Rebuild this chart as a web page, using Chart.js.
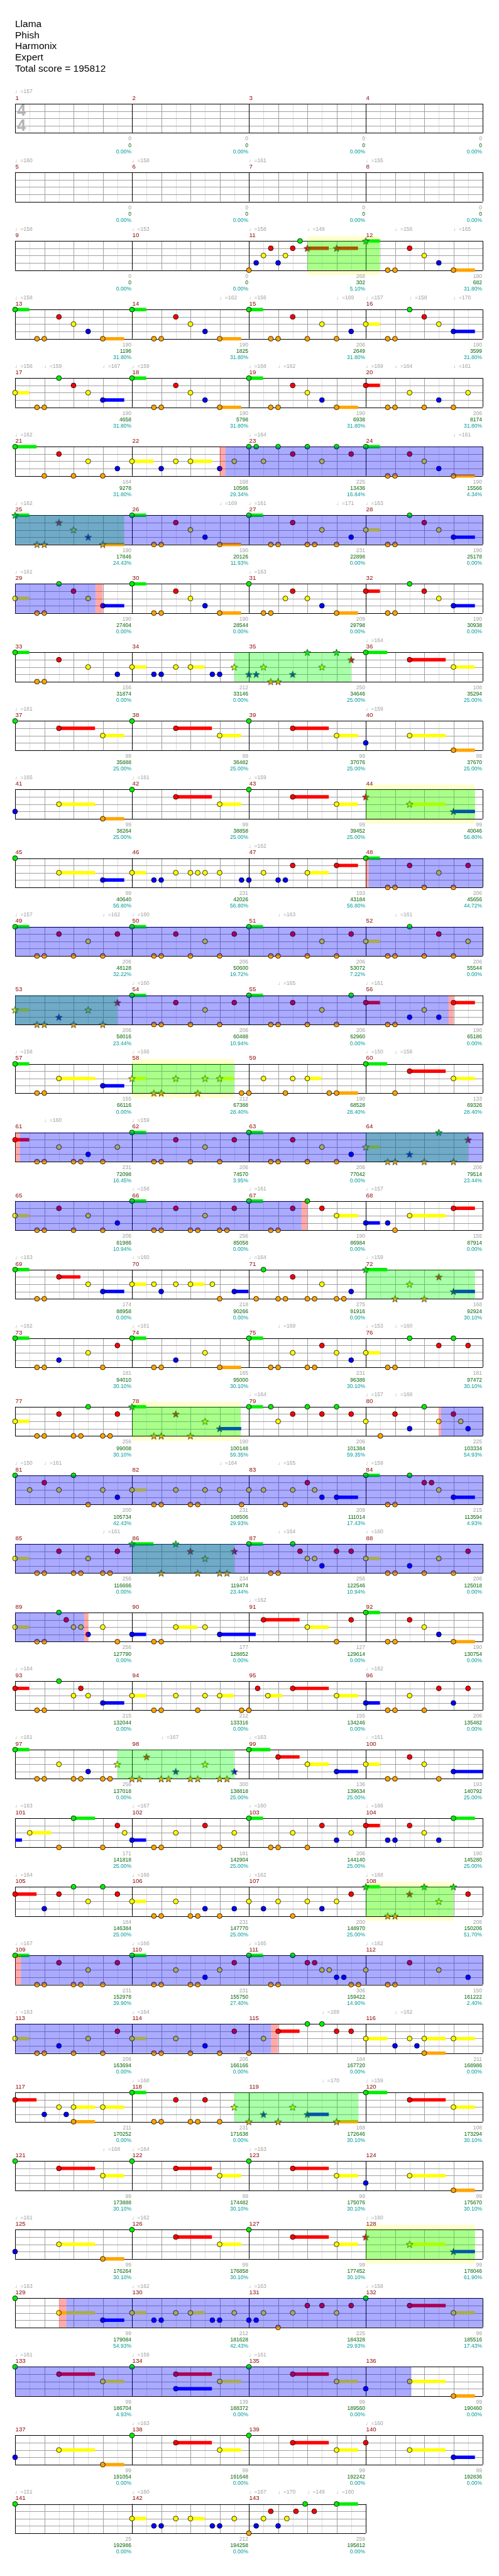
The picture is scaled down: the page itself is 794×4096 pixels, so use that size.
<!DOCTYPE html>
<html>
<head>
<meta charset="utf-8">
<script src="https://cdn.jsdelivr.net/npm/chart.js@4.4.0/dist/chart.umd.min.js"></script>
<style>
  html, body { margin: 0; padding: 0; background: #fff; }
  #wrap { width: 794px; height: 4096px; }
</style>
</head>
<body>
<div id="wrap"><canvas id="chart" width="794" height="4096"></canvas></div>
<script>
const titleLines = ['Llama', 'Phish', 'Harmonix', 'Expert', 'Total score = 195812'];
const lastMeasure = 143;

// notes: [measure, sixteenth inside measure, sustain length in sixteenths]
const greenNotes = [
  [11,7],[12,0,2],
  [13,0,2],[14,0,2],[15,0,2],[16,6],
  [17,6],[18,0,2],[19,0,2],
  [21,0,3],[23,0],[23,1],[23,4],[23,8],[23,12],[24,0,2],
  [25,0,2],[26,0,2],[27,0,2],[28,6],
  [29,6],[30,0,2],[31,0],[32,6],
  [33,0,2],[35,8],[35,12],[36,0,3],
  [37,0],[38,0],[39,0],
  [42,0],[43,0],
  [45,0],[48,0,2],
  [49,0,2],[50,0,2],[51,0,2],[52,6],
  [54,0,2],[55,0,2],[55,14],
  [57,0,2],[60,0,3],
  [62,0,2],[63,0,2],[64,10],
  [66,0,2],[67,0,2],[67,8],
  [69,0,2],[71,2],[72,0,3],
  [73,0,2],[74,0,2],[75,0,2],[76,6],[76,12],
  [77,10],[78,0,2],[79,0,2],[79,3],[79,8],[79,12],[80,8],
  [81,0],[81,8],[84,0,2],[84,6],
  [86,0,3],[86,6],[87,0,2],[87,6],
  [89,6],[92,0,2],
  [93,6],
  [97,0,2],[99,0,3],
  [101,8,3],[103,0,2],[104,12,3],
  [105,8],[105,12],[108,0,2],[108,8],[108,12],
  [109,0,2],[110,0,2],[111,0,2],[111,6],
  [115,8],[115,10],
  [118,0,2],[120,0,3],
  [121,0],[122,0],[123,0],
  [126,0],[127,0],
  [129,0],[132,0],
  [133,0],[134,0],[135,0],
  [138,0],[139,0],
  [141,0],[143,7.7],[143,12,3]
];
const redNotes = [
  [11,3],[11,6],[11,8,3],[11,12,3],[12,6],
  [13,6],[14,6],[15,6],[16,8],
  [17,8],[18,6],[19,6],[20,0,2],
  [21,6],[23,6],[23,14],[24,6],
  [25,6],[26,6],[27,6],[28,8],
  [29,8],[30,6],[31,6],[32,0,2],[32,8],
  [33,6],[35,14],[36,6,5],
  [37,6,5],[38,6,5],[39,6,5],
  [42,6,5],[43,6,5],[44,0],
  [47,6],[47,12,3],[48,6],[48,14],
  [49,6],[49,14],[50,6],[50,14],[51,6],[51,14],[52,10],
  [53,14],[54,6],[54,14],[55,6],[56,0,2],[56,12,3],
  [60,6,5],
  [61,0,2],[62,6],[62,14],[63,6],[64,14],
  [65,6],[66,6],[66,14],[67,6],[67,10],[68,12,3],
  [69,6,3],[71,6],[72,10],
  [73,14],[75,10],[76,10],[76,14],
  [77,6],[77,14],[78,6],[79,6],[79,10],[79,14],[80,4],[80,12],
  [81,4],[83,8],[84,8],[84,9],
  [85,6],[85,14],[86,8],[86,14],[87,7],[87,12],[87,14],[88,14],
  [89,7],[91,2,5],[91,14],[92,6],
  [93,0,2],[93,9],[95,1.2],[95,6,5],[96,10],[96,14],
  [98,2],[99,4,3],[100,6],
  [101,14],[102,10],[103,10],[104,0,2],[104,6],
  [105,0,3],[105,6],[105,14],[107,14],[108,6],[108,14],
  [109,6],[109,14],[110,14],[111,8],[111,9],[112,6],
  [113,14],[114,14],[115,4,3],[115,12],[115,14],
  [117,0,3],[118,6],[118,10],[120,6,5],
  [121,6,5],[122,6,5],[123,6,5],
  [126,6,5],[127,6,5],[128,0],
  [131,8],[131,10],[131,14],[132,6,5],
  [133,6,5],[134,6,5],[135,6,5],
  [138,6,5],[139,6,5],[140,0],
  [143,3],[143,6.45],[143,8.95]
];
const yellowNotes = [
  [11,2],[11,5],[12,8],
  [13,8],[14,8],[15,10],[16,0,2],[16,10],
  [17,0,2],[17,10],[18,8],[19,8],[20,6],[20,14],
  [21,10],[22,0,3],[22,6],[22,8,3],[22,14],[23,2],[23,10],[24,8],
  [25,8],[26,8],[27,10],[28,0,2],[28,10],
  [29,0,2],[29,10],[30,8],[31,5],[31,8],[32,10],
  [33,10],[34,0,2],[34,6],[34,8,2],[34,14],[35,2],[35,10],[36,12,3],
  [37,12,3],[38,12,3],[39,12,3],[40,6,5],
  [41,6,5],[42,12,3],[43,12,3],[44,6,5],
  [45,6,5],[46,0,2],[46,6],[46,8],[46,9],[46,10],[46,12],[47,2],[47,8,3],[48,10],
  [49,10],[50,10],[51,10],[52,0,2],[52,14],
  [53,0,2],[53,10],[54,10],[55,10],[56,8],
  [57,6,5],[58,0,2],[58,6],[58,10],[58,12,2],[59,2],[59,6],[59,8,2],[60,12,3],
  [61,6],[61,14],[62,10],[63,10],[64,0,2],
  [65,0,2],[65,10],[66,10],[67,12,3],[68,6,5],
  [69,10],[70,0,2],[70,3],[70,6],[70,8,2],[70,11],[71,10],[72,6],
  [73,10],[74,10],[75,6],[75,12],[76,0,2],
  [77,0,2],[78,10],[79,4],[80,0],[80,10],[80,13],
  [81,2],[81,6],[81,12],[82,0,2],[82,6],[82,10],[82,12],[83,0],[83,2],[83,6],[83,9],[84,10],
  [85,0,2],[85,10],[86,10],[87,8],[87,9],[88,0,2],[88,10],
  [89,0,2],[89,8],[89,9],[89,12],[90,6,3],[90,10],[91,8,3],[92,8],
  [93,8],[93,10],[94,0,2],[94,6],[94,10],[94,12,2],[95,2.6,2],[95,12,3],[96,6],
  [97,6],[97,14],[98,10],[99,8,3],[100,0,2],[100,8],
  [101,2,3],[101,15],[102,6],[102,14],[103,6],[103,14],[104,8],
  [105,10],[106,0,2],[106,6],[107,0],[107,4],[107,8],[107,12],[108,10],
  [109,10],[110,6],[110,12],[111,10],[111,11],[112,0],[112,10],
  [113,0,2],[113,10],[114,0,2],[114,6],[115,2],[116,0,3],[116,6],[116,8,3],[116,12,3],
  [117,6],[117,8,3],[117,12,3],[118,14],[119,6],[120,12,3],
  [121,12,3],[122,12,3],[123,12,3],[124,6,5],
  [125,6,5],[126,12,3],[127,12,3],[128,6,5],
  [129,6,5],[130,0,2],[130,6],[130,8,2],[130,14],[131,2],[131,6],[131,12],[132,12,3],
  [133,12,3],[134,12,3],[135,12,3],[136,6,5],
  [137,6,5],[138,12,3],[139,12,3],[140,6,5],
  [142,0,2],[142,6],[142,8,2],[142,14],[143,2],[143,5.2]
];
const blueNotes = [
  [11,1],[11,4],[12,10],
  [13,10],[14,10],[15,14],[16,12,3],
  [17,12,3],[18,10],[19,10],[20,10],
  [21,14],[22,4],[22,12],[24,10],
  [25,10],[26,10],[27,14],[28,12,3],
  [29,12,3],[30,10],[31,10],[32,12,3],
  [33,14],[34,3],[34,4],[34,11],[34,12],[35,0],[35,1],[35,6],
  [40,0],
  [41,0],[44,12,3],
  [45,12,3],[46,3],[46,4],[46,15],[47,0],[47,4],[47,5],
  [53,6],[56,6],[56,10],
  [57,12,3],
  [61,10],[63,14],[64,6],
  [65,14],[68,0,2],[68,3],
  [69,12,3],[70,4],[70,14,2],[71,14],[72,12,3],
  [73,6],[74,6],[75,14],
  [78,12,3],[80,6],[80,14],
  [81,14],[83,10],[83,12,3],[84,12,3],
  [87,10],[88,6],
  [89,10],[90,0,2],[90,12,5],[92,10],
  [93,12,3],[96,0,2],[96,12],
  [97,10],[98,6],[98,14],[99,12,3],[100,12,5],
  [102,0,2],[103,12],[104,3],[104,4],[104,10],
  [105,4],[106,10],[106,14],[107,2],[107,10],
  [110,10],[111,12],[111,13],[112,14],
  [113,6],[114,10],[116,4],[116,7],
  [117,4],[117,7],[119,2],[119,8,3],
  [124,0],
  [125,0],[128,12,3],
  [129,12,3],[130,3],[130,4],[130,11],[130,12],[131,0],[131,1],
  [134,6,5],[136,0],
  [137,0],[140,12,3],
  [142,3],[142,4],[142,11],[142,12],[143,1],[143,4]
];
const orangeNotes = [
  [11,0],[12,3],[12,4],[12,12,3],
  [13,3],[13,4],[13,12,3],[14,3],[14,4],[14,12,3],[15,3],[15,4],[15,8],[15,12],[16,3],[16,4],
  [17,3],[17,4],[18,3],[18,4],[18,12,3],[19,3],[19,4],[19,12,3],[20,3],[20,4],[20,8],[20,12],
  [21,4],[21,8],[21,12],[24,3],[24,4],[24,12,3],
  [25,3],[25,4],[25,12,3],[26,3],[26,4],[26,12,3],[27,3],[27,4],[27,8],[27,9],[27,12],[28,3],[28,4],
  [29,3],[29,4],[30,3],[30,4],[30,12,3],[31,2],[31,3],[31,12,3],[32,3],[32,4],
  [33,3],[33,4],[35,3],[35,4],
  [40,12,3],
  [41,12,3],
  [48,3],[48,4],[48,8],[48,12],
  [49,3],[49,4],[49,8],[49,12],[50,3],[50,4],[50,8],[50,12],[51,3],[51,4],[51,8],[51,12],[52,3],[52,4],[52,8],[52,12],
  [53,3],[53,4],[53,8],[53,12],[54,3],[54,4],[54,8],[54,12],[55,3],[55,4],[55,8],[55,12],[56,3],[56,4],
  [57,3],[57,4],[58,3],[58,4],[58,9],[58,15],[59,0],[59,5],[59,11],[59,12,3],[60,4],
  [61,3],[61,4],[61,8],[61,9],[61,12],[62,3],[62,4],[62,8],[62,12],[63,3],[63,4],[63,8],[63,12],[64,3],[64,4],[64,8],[64,12],
  [65,3],[65,4],[65,8],[65,12],[66,3],[66,4],[66,8],[66,9],[66,12],[66,13],[67,3],[67,4],[68,4],
  [69,3],[69,4],[70,12],[71,1],[71,4],[71,5],[71,8],[71,9],[71,12],[71,13],[72,4],[72,8],
  [73,3],[73,4],[73,12],[74,3],[74,4],[74,12,3],[75,3],[75,4],[75,8],[75,9],[76,3],[76,4],
  [77,3],[77,4],[77,8],[77,9],[77,12],[77,13],[78,3],[78,4],[78,8],[80,2],
  [81,10],[82,3],[82,4],[82,8],[82,9],[82,15],[83,5],[84,3],[84,4],
  [85,3],[85,4],[85,8],[85,9],[85,12],[85,13],[86,4],[86,9],[86,12],[86,13],[87,3],[87,4],[88,3],[88,4],[88,8],[88,12],
  [89,3],[89,4],[89,14],[90,3],[90,4],[91,12],[92,3],[92,4],[92,12,3],
  [93,3],[93,4],[94,3],[94,4],[94,9],[94,15],[95,0],[96,3],[96,4],[96,8],
  [97,3],[97,4],[97,8],[97,9],[97,12],[97,13],[98,0],[98,1],[98,4],[98,5],[98,8],[98,9],[98,12],[98,13],[100,3],[100,4],[100,10],
  [101,6],[101,12],[102,3],[102,4],[102,12],[103,3],[103,4],[103,8],
  [106,3],[106,4],[106,8],[106,9],[106,12],[107,6],[108,3],[108,4],
  [109,3],[109,4],[109,8],[109,9],[109,12],[110,3],[110,4],[110,8],[110,9],[111,3],[111,4],[111,14],[111,15],[112,3],[112,4],
  [113,3],[113,4],[113,8],[113,12],[114,3],[114,4],[114,8],[114,12],[115,0],[116,8,3],
  [117,8,3],[118,3],[118,4],[118,8],[118,9],[118,12],[119,0],[119,4],[119,12,3],
  [124,12,3],
  [125,12,3],
  [131,4],
  [136,12,3],
  [137,12,3],
  [143,0]
];

// sections: [startMeasure, startSixteenth, endMeasure, endSixteenth]
const spPhrases = [
  [11,8,12,1.94],[25,0,25,14.93],[34,14,35,14],[44,0,44,14.95],[53,0,53,14],
  [58,0,58,14],[64,0,64,14],[72,0,72,14.95],[78,0,78,14.9],[86,0,86,14],
  [97,14,98,14],[108,0,108,12],[118,14,119,15],[128,0,128,14.95]
];
const yellowBoxes = [
  [11,8,12,1.94],[44,0,44,14.95],[58,0,58,14],[78,0,78,14.9],[108,0,108,12],[128,0,128,14.95]
];
const activations = [
  [22,12.78,29,11],[48,0.4,56,11.34],[61,0.65,67,7.2],[80,10.3,89,9.45],[109,0.8,115,3.05],[129,7,136,6.24]
];
const squeezes = [
  [22,12,22,12.78],[29,11,29,12],[48,0,48,0.4],[56,11.34,56,12],[61,0,61,0.65],[67,7.2,67,8],
  [80,10,80,10.3],[89,9.45,89,10],[109,0,109,0.8],[115,3.05,115,4],[129,6,129,7]
];

// tempo marks: [measure, sixteenth, bpm]
const tempos = [
  [1,0,157],[5,0,160],[6,0,158],[7,0,161],[8,0,155],
  [9,0,158],[10,0,153],[11,0,158],[11,8,149],[12,4,156],[12,12,165],
  [13,0,158],[14,12,162],[15,0,156],[15,12,169],[16,0,157],[16,6,158],[16,12,170],
  [17,0,156],[17,4,159],[17,12,167],[18,0,159],[19,0,168],[19,4,162],[20,0,169],[20,4,164],[20,12,161],
  [21,0,162],[23,0,164],[24,12,161],
  [25,0,162],[26,12,169],[27,0,161],[27,12,171],[28,0,163],
  [29,0,161],[31,0,163],
  [36,0,164],
  [37,0,161],[40,0,159],
  [41,0,165],[42,0,161],[43,0,159],
  [47,0,162],
  [49,0,157],[49,12,162],[50,0,160],[51,4,163],[52,4,161],
  [54,0,160],[55,4,165],[56,0,161],
  [57,0,158],[58,0,166],[60,0,150],[60,4,156],
  [61,4,160],[62,0,159],
  [66,0,158],[67,0,161],[68,0,157],
  [69,0,163],[70,0,160],[71,0,164],[72,0,159],
  [73,0,162],[74,0,161],[75,4,169],[76,0,153],[76,4,160],
  [79,0,164],[80,0,157],[80,4,168],
  [81,0,150],[81,4,161],[82,12,164],[83,4,165],[84,0,159],
  [85,12,161],[87,4,164],[88,0,160],
  [91,0,162],
  [93,0,164],[96,0,162],
  [97,0,161],[98,4,167],[99,0,163],[100,0,161],
  [101,0,163],[102,0,167],[103,0,160],[104,0,166],
  [105,0,164],[106,0,166],[107,0,162],[108,0,168],
  [109,0,167],[110,0,166],[111,0,165],[112,0,162],
  [113,0,163],[114,0,164],[115,10,169],[116,4,162],
  [118,0,168],[119,10,170],[120,0,159],
  [121,12,168],[122,0,164],[123,0,163],
  [125,0,161],[126,0,162],[128,0,160],
  [129,0,163],[130,0,162],[131,0,163],[132,0,158],
  [133,0,161],[134,0,159],[135,0,161],
  [138,0,163],[140,0,160],
  [141,0,151],[142,0,160],[143,0,167],[143,4,170],[143,8,149],[143,12,160]
];

// per measure, 1..143
const baseScores = [0,0,0,0, 0,0,0,0, 0,0,268,190, 190,190,206,190, 190,190,190,206, 184,168,225,190,
  190,190,231,190, 190,190,209,190, 156,212,250,108, 99,99,99,99, 99,99,99,99, 99,231,193,206,
  206,206,206,206, 206,206,206,190, 155,212,190,133, 231,206,206,206, 206,256,190,155, 174,218,275,168,
  181,165,231,181, 256,190,206,225, 200,231,209,215, 256,234,256,206, 256,177,127,190, 215,212,155,206,
  256,300,136,193, 171,181,206,190, 184,231,200,206, 231,231,306,150, 206,206,184,211, 211,231,168,108,
  99,99,99,99, 99,99,99,99, 99,212,225,99, 99,139,99,99, 99,99,99,99, 25,212,259];
const totalScores = [0,0,0,0, 0,0,0,0, 0,0,302,682, 1196,1825,2649,3599, 4658,5798,6938,8174,
  9278,10586,13436,15566, 17846,20126,22898,25178, 27404,28544,29798,30938, 31874,33146,34646,35294,
  35888,36482,37076,37670, 38264,38858,39452,40046, 40640,42026,43184,45656, 48128,50600,53072,55544,
  58016,60488,62960,65186, 66116,67388,68528,69326, 72098,74570,77042,79514, 81986,85058,86984,87914,
  88958,90266,91916,92924, 94010,95000,96386,97472, 99008,100148,101384,103334, 105734,108506,111014,113594,
  116666,119474,122546,125018, 127790,128852,129614,130754, 132044,133316,134246,135482,
  137018,138818,139634,140792, 141818,142904,144140,145280, 146384,147770,148970,150206,
  152978,155750,159422,161222, 163694,166166,167720,168986, 170252,171638,172646,173294,
  173888,174482,175076,175670, 176264,176858,177452,178046, 179084,181628,184328,185516,
  186704,188372,189560,190460, 191054,191648,192242,192836, 192986,194258,195812];
const percents = [0,0,0,0, 0,0,0,0, 0,0,5.10,31.80, 31.80,31.80,31.80,31.80, 31.80,31.80,31.80,31.80,
  31.80,29.34,16.84,4.34, 24.43,11.93,0,0, 0,0,0,0, 0,0,25,25, 25,25,25,25, 25,25,25,56.80,
  56.80,56.80,56.80,44.72, 32.22,19.72,7.22,0, 23.44,10.94,0,0, 0,28.40,28.40,28.40, 16.45,3.95,0,23.44,
  10.94,0,0,0, 0,0,0,30.10, 30.10,30.10,30.10,30.10, 30.10,59.35,59.35,54.93, 42.43,29.93,17.43,4.93,
  0,23.44,10.94,0, 0,0,0,0, 0,0,0,0, 0,25,25,25, 25,25,25,25, 25,25,25,51.70, 39.90,27.40,14.90,2.40,
  0,0,0,0, 0,0,30.10,30.10, 30.10,30.10,30.10,30.10, 30.10,30.10,30.10,61.90, 54.93,42.43,29.93,17.43,
  4.93,0,0,0, 0,0,0,0, 0,0,0];

const laneNotes = [greenNotes, redNotes, yellowNotes, blueNotes, orangeNotes];
const laneColors = ['#00ee00', '#ff0000', '#ffff00', '#0000ff', '#ffa500'];

// layout, in reference pixels (y scale runs 0..5281)
const K = 794 / 1024;
const ROW_TOP = 205.7, ROW_STEP = 141, LANE_GAP = 15;
const rowCount = Math.ceil(lastMeasure / 4);

function abs16(m, s) { return (m - 1) * 16 + s; }
function rowTop(r) { return ROW_TOP + r * ROW_STEP; }
function laneY(r, lane) { return rowTop(r) + lane * LANE_GAP; }
function splitRows(a, e, cb) {
  while (a < e - 1e-6) {
    const r = Math.floor(a / 64 + 1e-9);
    const end = Math.min(e, (r + 1) * 64);
    cb(r, a - r * 64, end - r * 64);
    a = end;
  }
}
function isStar(a) {
  return spPhrases.some(p => a >= abs16(p[0], p[1]) - 0.05 && a <= abs16(p[2], p[3]) + 0.05);
}
function fnt(ref, bold) {
  return (bold ? 'bold ' : '') + (ref * K).toFixed(2) + 'px "Liberation Sans", "DejaVu Sans", sans-serif';
}

function makeStar(fill) {
  const size = 13;
  const c = document.createElement('canvas');
  c.width = size; c.height = size;
  const g = c.getContext('2d');
  g.beginPath();
  for (let i = 0; i < 10; i++) {
    const rad = i % 2 ? 2.3 : 5.8;
    const ang = -Math.PI / 2 + i * Math.PI / 5;
    g.lineTo(size / 2 + rad * Math.cos(ang), size / 2 + 0.5 + rad * Math.sin(ang));
  }
  g.closePath();
  g.fillStyle = fill;
  g.fill();
  g.strokeStyle = '#1b2b1b';
  g.lineWidth = 0.8;
  g.stroke();
  return c;
}

const datasets = [];
laneNotes.forEach((notes, lane) => {
  const circles = [], stars = [], holds = [];
  notes.forEach(n => {
    const a = abs16(n[0], n[1]);
    const r = Math.floor(a / 64);
    const pt = { x: a - r * 64, y: laneY(r, lane) };
    (isStar(a) ? stars : circles).push(pt);
    if (n[2]) {
      splitRows(a, a + n[2] - 0.06, (row, x0, x1) => {
        holds.push({ x: x0, y: laneY(row, lane) }, { x: x1, y: laneY(row, lane) }, { x: x1, y: null });
      });
    }
  });
  datasets.push({
    type: 'scatter', data: circles, order: 0, clip: false,
    pointStyle: 'circle', pointRadius: 3.9, pointBackgroundColor: laneColors[lane],
    pointBorderColor: '#000', pointBorderWidth: 0.8
  });
  datasets.push({
    type: 'scatter', data: stars, order: 0, clip: false,
    pointStyle: makeStar(laneColors[lane]), pointRadius: 5
  });
  datasets.push({
    type: 'line', data: holds, order: 1, clip: false,
    borderColor: laneColors[lane], borderWidth: 7 * K, borderCapStyle: 'butt',
    pointRadius: 0, pointHitRadius: 0, spanGaps: false, tension: 0
  });
});

function fillSections(ctx, X, Y, list, color, above, below) {
  ctx.fillStyle = color;
  list.forEach(sec => {
    splitRows(abs16(sec[0], sec[1]), abs16(sec[2], sec[3]), (r, x0, x1) => {
      const t = Y(rowTop(r) - above), b = Y(rowTop(r) + 60 + below);
      ctx.fillRect(X(x0), t, X(x1) - X(x0), b - t);
    });
  });
}

const staffPlugin = {
  id: 'staff',
  beforeDraw(chart) {
    const ctx = chart.ctx;
    ctx.save();
    ctx.fillStyle = '#fff';
    ctx.fillRect(0, 0, chart.width, chart.height);
    ctx.restore();
  },
  beforeDatasetsDraw(chart) {
    const ctx = chart.ctx, xs = chart.scales.x, ys = chart.scales.y;
    const X = v => xs.getPixelForValue(v), Y = v => ys.getPixelForValue(v);
    ctx.save();
    fillSections(ctx, X, Y, yellowBoxes, '#ffffcc', 10, 10);
    ctx.lineWidth = 1;
    for (let r = 0; r < rowCount; r++) {
      const nm = Math.min(4, lastMeasure - r * 4);
      const top = Y(rowTop(r)), bot = Y(rowTop(r) + 60);
      const vline = (s, col) => {
        const x = Math.round(X(s)) + 0.5;
        ctx.strokeStyle = col;
        ctx.beginPath(); ctx.moveTo(x, top); ctx.lineTo(x, bot); ctx.stroke();
      };
      const hline = (off, col) => {
        const y = Math.round(Y(rowTop(r) + off)) + 0.5;
        ctx.strokeStyle = col;
        ctx.beginPath(); ctx.moveTo(X(0), y); ctx.lineTo(X(nm * 16), y); ctx.stroke();
      };
      for (let s = 2; s < nm * 16; s += 4) vline(s, '#dedede');
      for (let s = 4; s < nm * 16; s += 4) if (s % 16) vline(s, '#a0a0a0');
      [15, 30, 45].forEach(o => hline(o, '#a0a0a0'));
      for (let s = 0; s <= nm * 16; s += 16) vline(s, '#000');
      hline(0, '#000');
      hline(60, '#000');
    }
    // time signature
    ctx.fillStyle = '#b4b4b4';
    ctx.font = fnt(33, true);
    ctx.textAlign = 'left';
    ctx.textBaseline = 'middle';
    ctx.fillText('4', X(0) + 4 * K, Y(rowTop(0) + 16));
    ctx.fillText('4', X(0) + 4 * K, Y(rowTop(0) + 46));
    ctx.restore();
  },
  afterDatasetsDraw(chart) {
    const ctx = chart.ctx, xs = chart.scales.x, ys = chart.scales.y;
    const X = v => xs.getPixelForValue(v), Y = v => ys.getPixelForValue(v);
    ctx.save();
    fillSections(ctx, X, Y, spPhrases, 'rgba(0,255,0,0.333)', 0, 0);
    fillSections(ctx, X, Y, activations, 'rgba(0,0,255,0.333)', 0, 0);
    fillSections(ctx, X, Y, squeezes, 'rgba(255,0,0,0.333)', 0, 0);

    ctx.textBaseline = 'middle';
    // title block
    ctx.fillStyle = '#000';
    ctx.font = fnt(20);
    ctx.textAlign = 'left';
    titleLines.forEach((t, i) => ctx.fillText(t, X(0), Y(42 + i * 23)));

    // tempo marks
    ctx.fillStyle = '#a0a0a0';
    ctx.font = fnt(11);
    tempos.forEach(t => {
      const a = abs16(t[0], t[1]);
      const r = Math.floor(a / 64);
      ctx.fillText('\u2669=' + t[2], X(a - r * 64), Y(rowTop(r) - 24.5));
    });

    for (let m = 1; m <= lastMeasure; m++) {
      const r = Math.floor((m - 1) / 4), col = (m - 1) % 4, t = rowTop(r);
      ctx.textAlign = 'left';
      ctx.fillStyle = '#8b0000';
      ctx.font = fnt(12.5);
      ctx.fillText(String(m), X(col * 16) + 0.5, Y(t - 11.5));
      const xr = X((col + 1) * 16) - 1;
      ctx.textAlign = 'right';
      ctx.font = fnt(11);
      ctx.fillStyle = '#a0a0a0';
      ctx.fillText(String(baseScores[m - 1]), xr, Y(t + 72.5));
      ctx.fillStyle = '#006400';
      ctx.fillText(String(totalScores[m - 1]), xr, Y(t + 86));
      ctx.fillStyle = '#009999';
      ctx.fillText(percents[m - 1].toFixed(2) + '%', xr, Y(t + 99));
    }
    ctx.restore();
  }
};

new Chart(document.getElementById('chart'), {
  type: 'scatter',
  data: { datasets: datasets },
  options: {
    responsive: false,
    animation: false,
    events: [],
    layout: { padding: { left: 24, right: 26, top: 0, bottom: 0 } },
    plugins: { legend: { display: false }, tooltip: { enabled: false } },
    scales: {
      x: { type: 'linear', min: 0, max: 64, display: false },
      y: { type: 'linear', min: 0, max: 5281, reverse: true, display: false }
    }
  },
  plugins: [staffPlugin]
});
</script>
</body>
</html>
